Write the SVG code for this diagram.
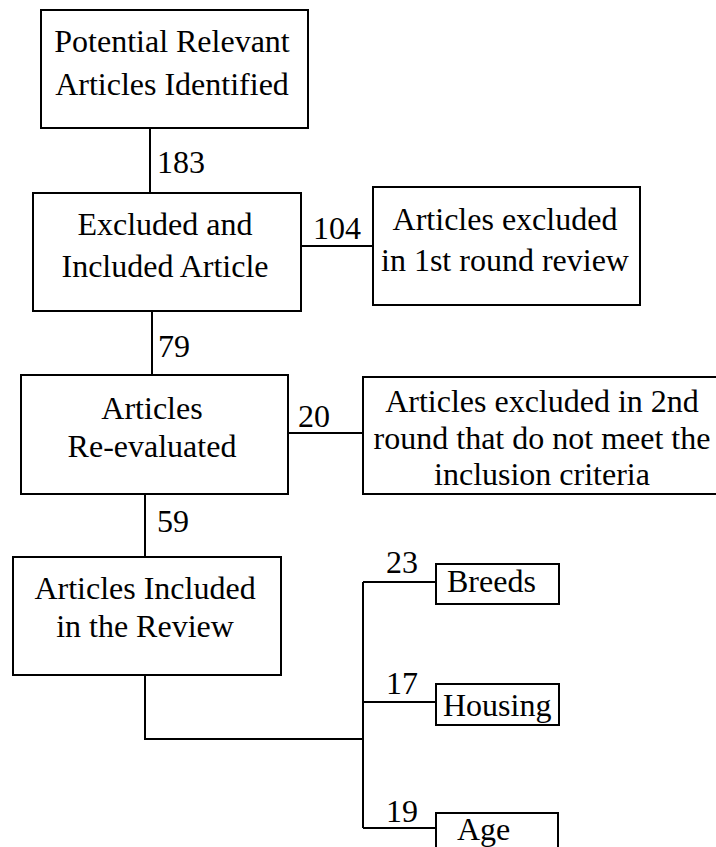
<svg xmlns="http://www.w3.org/2000/svg" width="716" height="847" viewBox="0 0 716 847" font-family="'Liberation Serif', 'Times New Roman', 'DejaVu Serif', serif" font-size="32">
<style>
.box{fill:#fff;stroke:#000;stroke-width:2}
.ln{fill:none;stroke:#000;stroke-width:2}
text{font-family:'Liberation Serif','Times New Roman','DejaVu Serif',serif;font-size:32px;fill:#000}
.c{text-anchor:middle}
</style>
<rect width="716" height="847" fill="#fff"/>
<g id="connectors">
<line class="ln" x1="150" y1="128" x2="150" y2="193"/>
<line class="ln" x1="301" y1="246" x2="373" y2="246"/>
<line class="ln" x1="152" y1="311" x2="152" y2="375"/>
<line class="ln" x1="288" y1="433" x2="363" y2="433"/>
<line class="ln" x1="145" y1="494" x2="145" y2="557"/>
<polyline class="ln" points="145,675 145,739 363,739"/>
<line class="ln" x1="363" y1="582" x2="363" y2="828"/>
<line class="ln" x1="363" y1="582" x2="436" y2="582"/>
<line class="ln" x1="363" y1="702" x2="436" y2="702"/>
<line class="ln" x1="363" y1="828" x2="436" y2="828"/>
<text x="157" y="173">183</text>
<text x="313" y="239">104</text>
<text x="158" y="357">79</text>
<text x="298" y="427">20</text>
<text x="157" y="532">59</text>
<text x="386" y="573">23</text>
<text x="386" y="694">17</text>
<text x="386" y="822">19</text>
</g>
<g id="identified">
<rect class="box" x="41" y="10" width="267" height="118"/>
<text class="c" x="172" y="52">Potential Relevant</text>
<text class="c" x="172" y="95">Articles Identified</text>
</g>
<g id="screened">
<rect class="box" x="33" y="193" width="268" height="118"/>
<text class="c" x="165" y="235">Excluded and</text>
<text class="c" x="165" y="277">Included Article</text>
</g>
<g id="excluded1">
<rect class="box" x="373" y="187" width="267" height="118"/>
<text class="c" x="505" y="230">Articles excluded</text>
<text class="c" x="505" y="271">in 1st round review</text>
</g>
<g id="reevaluated">
<rect class="box" x="21" y="375" width="267" height="119"/>
<text class="c" x="152" y="419">Articles</text>
<text class="c" x="152" y="457">Re-evaluated</text>
</g>
<g id="excluded2">
<rect class="box" x="363" y="377" width="360" height="117"/>
<text class="c" x="542" y="412">Articles excluded in 2nd</text>
<text class="c" x="542" y="449">round that do not meet the</text>
<text class="c" x="542" y="485">inclusion criteria</text>
</g>
<g id="included">
<rect class="box" x="13" y="557" width="268" height="118"/>
<text class="c" x="145" y="599">Articles Included</text>
<text class="c" x="145" y="637">in the Review</text>
</g>
<g id="breeds">
<rect class="box" x="436" y="564" width="123" height="40"/>
<text x="447" y="592">Breeds</text>
</g>
<g id="housing">
<rect class="box" x="436" y="684" width="123" height="41"/>
<text x="443" y="716">Housing</text>
</g>
<g id="age">
<rect class="box" x="436" y="813" width="122" height="50"/>
<text x="457" y="840">Age</text>
</g>
</svg>
